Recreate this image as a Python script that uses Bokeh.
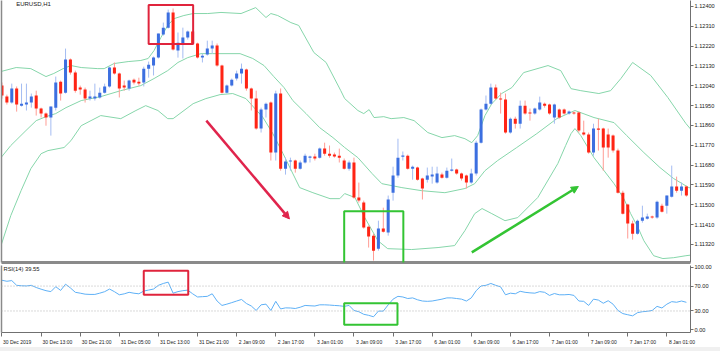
from bokeh.plotting import figure
from bokeh.models import (Range1d, LinearAxis, FixedTicker, PrintfTickFormatter, Span, Label,
                          Arrow, NormalHead, BoxAnnotation, ColumnDataSource, Spacer)
from bokeh.layouts import column
from bokeh.embed import file_html
from bokeh.resources import INLINE

# ---------------- data ----------------
opens = [1.12041,1.11991,1.11964,1.12028,1.11950,1.11955,1.11964,1.11996,1.11937,1.11914,
         1.11896,1.11941,1.12059,1.12009,1.12159,1.12100,1.12032,1.12023,1.11982,1.11982,
         1.11987,1.12009,1.12037,1.12123,1.12096,1.12041,1.12028,1.12068,1.12059,1.12055,
         1.12118,1.12132,1.12168,1.12273,1.12304,1.12373,1.12200,1.12232,1.12259,1.12286,
         1.12232,1.12168,1.12182,1.12209,1.12223,1.12132,1.12009,1.12041,1.12073,1.12096,
         1.12114,1.12028,1.11982,1.11846,1.11932,1.11964,1.11737,1.12005,1.11664,1.11696,
         1.11701,1.11664,1.11692,1.11714,1.11719,1.11714,1.11755,1.11732,1.11728,1.11723,
         1.11701,1.11664,1.11692,1.11533,1.11510,1.11401,1.11360,1.11301,1.11392,1.11374,
         1.11555,1.11633,1.11719,1.11723,1.11664,1.11669,1.11619,1.11614,1.11628,1.11601,
         1.11637,1.11623,1.11655,1.11660,1.11642,1.11633,1.11601,1.11642,1.11782,1.11932,
         1.11959,1.12032,1.11982,1.11978,1.11828,1.11891,1.11868,1.11950,1.11919,1.11914,
         1.11932,1.11959,1.11955,1.11896,1.11932,1.11932,1.11914,1.11919,1.11919,1.11828,
         1.11819,1.11737,1.11846,1.11846,1.11819,1.11814,1.11746,1.11555,1.11501,1.11415,
         1.11369,1.11428,1.11437,1.11447,1.11442,1.11496,1.11496,1.11537,1.11583,1.11564,
         1.11583]
highs = [1.12055,1.12000,1.12050,1.12037,1.12050,1.12050,1.12005,1.12018,1.11941,1.11919,
         1.11946,1.12082,1.12064,1.12209,1.12164,1.12109,1.12041,1.12032,1.12018,1.12050,
         1.12032,1.12050,1.12127,1.12146,1.12100,1.12064,1.12068,1.12073,1.12077,1.12127,
         1.12150,1.12173,1.12277,1.12327,1.12386,1.12391,1.12282,1.12304,1.12291,1.12291,
         1.12236,1.12186,1.12245,1.12245,1.12232,1.12136,1.12046,1.12073,1.12109,1.12141,
         1.12118,1.12032,1.12018,1.11941,1.11964,1.11969,1.12018,1.12028,1.11714,1.11714,
         1.11705,1.11701,1.11732,1.11723,1.11732,1.11760,1.11782,1.11769,1.11737,1.11755,
         1.11710,1.11701,1.11714,1.11601,1.11519,1.11406,1.11369,1.11428,1.11487,1.11542,
         1.11673,1.11800,1.11742,1.11728,1.11678,1.11673,1.11623,1.11669,1.11673,1.11673,
         1.11646,1.11669,1.11710,1.11664,1.11646,1.11637,1.11664,1.11791,1.11937,1.11996,
         1.12050,1.12046,1.12009,1.12005,1.11896,1.11900,1.11973,1.11973,1.11937,1.11941,
         1.11991,1.11964,1.11959,1.11959,1.11937,1.11937,1.11928,1.11923,1.11923,1.11882,
         1.11828,1.11868,1.11891,1.11850,1.11846,1.11819,1.11755,1.11564,1.11505,1.11428,
         1.11433,1.11496,1.11460,1.11451,1.11519,1.11505,1.11542,1.11678,1.11628,1.11601,
         1.11587]
lows = [1.11982,1.11955,1.11959,1.11923,1.11946,1.11928,1.11941,1.11905,1.11896,1.11859,
        1.11814,1.11928,1.11973,1.12005,1.12091,1.12009,1.12000,1.11964,1.11973,1.11973,
        1.11982,1.12005,1.12032,1.12091,1.11987,1.12018,1.12018,1.12046,1.12041,1.12037,
        1.12077,1.12087,1.12164,1.12268,1.12300,1.12200,1.12168,1.12164,1.12250,1.12227,
        1.12164,1.12146,1.12177,1.12186,1.12127,1.12005,1.12005,1.12037,1.12064,1.12050,
        1.12018,1.11928,1.11841,1.11828,1.11896,1.11701,1.11701,1.11655,1.11637,1.11655,
        1.11646,1.11660,1.11687,1.11692,1.11701,1.11710,1.11723,1.11714,1.11714,1.11692,
        1.11660,1.11655,1.11528,1.11510,1.11392,1.11306,1.11247,1.11292,1.11374,1.11360,
        1.11519,1.11623,1.11701,1.11660,1.11614,1.11610,1.11524,1.11601,1.11596,1.11596,
        1.11619,1.11619,1.11651,1.11637,1.11610,1.11574,1.11596,1.11633,1.11778,1.11928,
        1.11955,1.11978,1.11914,1.11823,1.11823,1.11846,1.11846,1.11909,1.11882,1.11909,
        1.11928,1.11941,1.11909,1.11868,1.11891,1.11909,1.11909,1.11909,1.11828,1.11814,
        1.11732,1.11723,1.11746,1.11655,1.11714,1.11737,1.11551,1.11456,1.11347,1.11342,
        1.11365,1.11419,1.11433,1.11437,1.11437,1.11465,1.11460,1.11533,1.11555,1.11542,
        1.11537]
closes = [1.11996,1.11964,1.12028,1.11955,1.11959,1.11964,1.11991,1.11937,1.11914,1.11896,
          1.11946,1.12055,1.12005,1.12159,1.12100,1.12018,1.12023,1.11982,1.11991,1.11991,
          1.12009,1.12037,1.12123,1.12096,1.12028,1.12032,1.12064,1.12055,1.12050,1.12118,
          1.12136,1.12168,1.12277,1.12304,1.12373,1.12205,1.12236,1.12259,1.12286,1.12232,
          1.12168,1.12177,1.12209,1.12223,1.12132,1.12009,1.12041,1.12068,1.12096,1.12118,
          1.12028,1.11982,1.11846,1.11932,1.11959,1.11737,1.12005,1.11664,1.11696,1.11701,
          1.11664,1.11692,1.11723,1.11719,1.11710,1.11755,1.11732,1.11723,1.11719,1.11714,
          1.11664,1.11692,1.11533,1.11519,1.11397,1.11356,1.11292,1.11392,1.11378,1.11524,
          1.11633,1.11714,1.11723,1.11664,1.11673,1.11614,1.11574,1.11633,1.11637,1.11642,
          1.11623,1.11655,1.11660,1.11642,1.11619,1.11601,1.11642,1.11782,1.11932,1.11959,
          1.12032,1.11982,1.11978,1.11828,1.11891,1.11868,1.11950,1.11914,1.11914,1.11937,
          1.11964,1.11950,1.11914,1.11955,1.11896,1.11914,1.11923,1.11914,1.11837,1.11819,
          1.11737,1.11846,1.11841,1.11760,1.11760,1.11746,1.11555,1.11460,1.11415,1.11369,
          1.11428,1.11442,1.11447,1.11442,1.11514,1.11469,1.11542,1.11583,1.11564,1.11583,
          1.11542]

upper_bar = [-0.2,2.9,5.9,9.0,10.6,12.5,14.1,16.2,19.6,20.9,22.9,25.8,28.4,29.9,31.1,32.5,33.9,35.2,
             37.2,39.1,42.1,44.8,48.9,51.9,54.0,55.0,56.4,59.1,60.7,63.8,66.3,69.3,70.1,72.8,74.0,
             75.1,76.1,78.1,79.6,82.2,84.3,87.1,90.0,92.6,94.7,96.1,97.3,98.8,100.2,102.2,104.3,
             106.7,111.7,114.3,116.4,118.4,122.1,124.5,126.6,129.0,132.7,136.2,139.9,141.0]
upper_val = [1.12105,1.12123,1.12118,1.12082,1.12096,1.12118,1.12132,1.12123,1.12118,1.12118,
             1.12141,1.12150,1.12155,1.12164,1.12200,1.12259,1.12314,1.12345,1.12359,1.12368,
             1.12368,1.12373,1.12368,1.12395,1.12350,1.12368,1.12359,1.12327,1.12314,1.12191,
             1.12146,1.12018,1.11982,1.11928,1.11914,1.11932,1.11896,1.11900,1.11891,1.11896,
             1.11882,1.11828,1.11805,1.11814,1.11800,1.11782,1.11814,1.11905,1.11959,1.12005,
             1.12032,1.12100,1.12132,1.12109,1.12027,1.12018,1.12005,1.12018,1.12073,1.12146,
             1.12087,1.11987,1.11869,1.11840]
middle_bar = [-0.2,1.8,4.9,7.0,9.0,11.0,13.1,16.2,20.2,24.3,28.4,31.1,33.9,36.0,38.0,40.7,43.1,
              48.7,51.3,53.6,55.6,57.7,59.5,62.2,65.0,67.7,70.1,72.8,75.7,77.7,81.8,85.9,90.6,
              94.7,96.7,98.8,101.4,105.3,109.4,113.5,117.2,121.1,125.2,127.8,131.3,134.6,137.4,
              140.5,141.0]
middle_val = [1.11714,1.11769,1.11837,1.11882,1.11900,1.11914,1.11941,1.11973,1.11991,1.12018,
              1.12041,1.12073,1.12109,1.12146,1.12168,1.12186,1.12186,1.12186,1.12164,1.12132,
              1.12082,1.12032,1.11973,1.11914,1.11850,1.11805,1.11760,1.11714,1.11642,1.11596,
              1.11578,1.11564,1.11555,1.11574,1.11596,1.11655,1.11701,1.11760,1.11823,1.11891,
              1.11928,1.11896,1.11873,1.11814,1.11737,1.11669,1.11619,1.11578,1.11576]
lower_bar = [-0.2,1.8,3.9,5.9,8.0,9.4,12.7,14.1,16.2,20.2,24.3,27.4,29.4,31.9,33.9,35.0,39.1,
             41.7,44.6,47.2,49.9,53.4,55.4,57.5,60.9,63.6,67.1,69.1,70.1,72.2,74.2,76.9,78.9,
             83.8,89.2,92.6,94.7,96.7,98.2,100.2,102.9,105.5,109.6,113.7,115.3,116.4,117.2,
             118.4,121.1,125.2,127.2,128.6,130.1,131.3,133.3,135.2,137.4,139.9,141.0]
lower_val = [1.11315,1.11451,1.11564,1.11664,1.11732,1.11746,1.11760,1.11791,1.11859,1.11905,
             1.11891,1.11928,1.11950,1.11928,1.11891,1.11891,1.11959,1.11982,1.12000,1.12005,
             1.11982,1.11896,1.11823,1.11732,1.11578,1.11555,1.11528,1.11528,1.11551,1.11533,
             1.11442,1.11337,1.11301,1.11297,1.11306,1.11315,1.11383,1.11460,1.11483,1.11460,
             1.11428,1.11442,1.11533,1.11687,1.11769,1.11823,1.11846,1.11814,1.11714,1.11596,
             1.11528,1.11460,1.11397,1.11337,1.11269,1.11256,1.11260,1.11269,1.11272]

rsi = [79.3,77.7,78.8,71.2,70.5,70.2,71.2,67.7,65.0,62.6,61.1,69.0,63.0,73.0,67.0,60.0,58.6,57.0,
       56.6,56.6,58.6,61.0,65.2,61.0,56.0,57.5,60.0,58.5,57.6,62.0,63.6,65.2,71.2,74.2,76.3,58.6,
       61.1,62.6,63.5,57.6,52.5,53.0,53.5,57.6,46.0,38.9,41.0,43.4,46.0,48.5,42.0,38.0,30.8,39.9,
       41.0,30.8,45.5,33.3,35.0,34.8,34.0,36.0,38.9,38.4,38.0,39.9,39.9,39.5,38.9,38.4,37.4,38.9,
       30.8,28.8,24.7,23.0,20.7,29.8,29.8,39.9,49.0,53.5,52.5,50.0,51.0,48.0,46.0,45.5,46.0,47.5,
       49.0,51.0,51.0,50.0,49.0,46.0,51.0,62.6,70.2,71.2,74.2,71.2,68.7,56.0,58.6,57.6,61.6,60.0,
       59.1,58.6,61.1,60.0,55.0,58.0,56.0,56.0,56.5,55.0,46.0,45.5,38.9,49.0,47.5,42.4,46.5,40.9,
       30.8,25.8,24.0,22.2,27.3,28.8,29.5,30.8,37.4,34.8,40.9,45.0,44.0,46.0,43.9]

price_ticks = [1.12400,1.12310,1.12220,1.12130,1.12040,1.11950,1.11860,1.11770,1.11680,
               1.11590,1.11500,1.11410,1.11320]
rsi_ticks = [0, 30, 70, 100]
time_ticks = [0, 8, 16, 24, 32, 40, 48, 56, 64, 72, 80, 88, 96, 104, 112, 120, 128, 136]
time_labels = ["30 Dec 2019", "30 Dec 13:00", "30 Dec 21:00", "31 Dec 05:00", "31 Dec 13:00",
               "31 Dec 21:00", "2 Jan 09:00", "2 Jan 17:00", "3 Jan 01:00", "3 Jan 09:00",
               "3 Jan 17:00", "6 Jan 01:00", "6 Jan 09:00", "6 Jan 17:00", "7 Jan 01:00",
               "7 Jan 09:00", "7 Jan 17:00", "8 Jan 01:00"]

# ---------------- styles ----------------
FONT = "Liberation Sans"
FS = "5.6px"
FS_TIME = 5.0
BAR_PX = 4.89          # width of one bar slot in pixels
BULL, BEAR = "#3c6fe0", "#ff2414"
BULL_W, BEAR_W = "#a4bcf2", "#ff9c94"
BAND = "#86d6aa"
AXIS_C = "#707070"
RED_BOX, GREEN_BOX = "#e0243c", "#33c433"

n = len(closes)
idx = list(range(n))
bull = [c >= o for o, c in zip(opens, closes)]
min_body = 0.00005
tops, bots = [], []
for o, c in zip(opens, closes):
    t, b = max(o, c), min(o, c)
    if t - b < min_body:
        m = (t + b) / 2
        t, b = m + min_body / 2, m - min_body / 2
    tops.append(t)
    bots.append(b)

src = ColumnDataSource(dict(
    x=idx, h=highs, l=lows, top=tops, bot=bots,
    body=[BULL if b else BEAR for b in bull],
    wick=[BULL_W if b else BEAR_W for b in bull]))

xr = Range1d(-0.1, 140.84)


def plain_axis(width):
    a = LinearAxis(ticker=FixedTicker(ticks=[]))
    a.axis_line_color = "#8a8a8a"
    a.axis_line_width = width
    a.major_tick_line_color = None
    a.minor_tick_line_color = None
    a.major_label_standoff = 0
    a.major_tick_out = 0
    return a


def price_axis(ticks, fmt):
    a = LinearAxis(ticker=FixedTicker(ticks=ticks), formatter=PrintfTickFormatter(format=fmt))
    a.axis_line_color = AXIS_C
    a.major_tick_line_color = AXIS_C
    a.major_tick_in = 0
    a.major_tick_out = 3
    a.minor_tick_line_color = None
    a.major_label_standoff = 1
    a.major_label_text_font = FONT
    a.major_label_text_font_size = FS
    a.major_label_text_color = "#202020"
    return a


# ---------------- main price panel ----------------
p1 = figure(width=720, height=264, x_range=xr, y_range=Range1d(1.112382, 1.124272),
            output_backend="svg", toolbar_location=None,
            x_axis_location=None, y_axis_location=None,
            min_border_left=1, min_border_right=30, min_border_top=0, min_border_bottom=2)
p1.grid.grid_line_color = None
p1.outline_line_color = None

p1.add_layout(price_axis(price_ticks, "%.5f"), "right")
p1.add_layout(plain_axis(3), "below")
p1.add_layout(plain_axis(1.5), "left")

p1.line(upper_bar, upper_val, line_color=BAND, line_width=1)
p1.line(middle_bar, middle_val, line_color=BAND, line_width=1)
p1.line(lower_bar, lower_val, line_color=BAND, line_width=1)

p1.segment(x0="x", y0="h", x1="x", y1="l", line_color="wick", line_width=1, source=src)
p1.vbar(x="x", width=0.62, top="top", bottom="bot", fill_color="body", line_color=None, source=src)

# annotations
p1.add_layout(BoxAnnotation(left=30.0, right=39.1, bottom=1.12230, top=1.12407,
                            fill_color=None, fill_alpha=0, line_color=RED_BOX, line_alpha=1,
                            line_width=2))
p1.add_layout(BoxAnnotation(left=70.0, right=82.1, bottom=1.1120, top=1.11471,
                            fill_color=None, fill_alpha=0, line_color=GREEN_BOX, line_alpha=1,
                            line_width=2))
p1.add_layout(Arrow(end=NormalHead(size=7, fill_color="#e0244c", line_color="#e0244c"),
                    x_start=41.8, y_start=1.11882, x_end=58.8, y_end=1.11436,
                    line_color="#e0244c", line_width=2.5))
p1.add_layout(Arrow(end=NormalHead(size=7, fill_color="#33c433", line_color="#33c433"),
                    x_start=96.1, y_start=1.11284, x_end=117.9, y_end=1.11583,
                    line_color="#33c433", line_width=2.5))
p1.add_layout(Label(x=2.9, y=1.12424, text="EURUSD,H1", text_font=FONT, text_font_size="6px",
                    text_baseline="top", text_color="#202020"))

# ---------------- RSI panel ----------------
p2 = figure(width=720, height=83, x_range=xr, y_range=Range1d(-4.55, 103.03),
            output_backend="svg", toolbar_location=None,
            x_axis_location=None, y_axis_location=None,
            min_border_left=1, min_border_right=30, min_border_top=1, min_border_bottom=11)
p2.grid.grid_line_color = None
p2.outline_line_color = None

p2.add_layout(price_axis(rsi_ticks, "%.2f"), "right")

# time axis: tick marks at the bars (minor ticks), labels placed to start right of each mark
label_pos = [round(t + (len(s) * 0.496 * FS_TIME / 2 + 1.5) / BAR_PX, 2)
             for t, s in zip(time_ticks, time_labels)]
bx = LinearAxis(ticker=FixedTicker(ticks=label_pos, minor_ticks=time_ticks),
                major_label_overrides={p: s for p, s in zip(label_pos, time_labels)})
bx.axis_line_color = AXIS_C
bx.major_tick_line_color = None
bx.major_tick_in = 0
bx.major_tick_out = 0
bx.minor_tick_line_color = AXIS_C
bx.minor_tick_in = 0
bx.minor_tick_out = 4
bx.major_label_standoff = 2
bx.major_label_text_font = FONT
bx.major_label_text_font_size = f"{FS_TIME}px"
bx.major_label_text_color = "#202020"
p2.add_layout(bx, "below")
p2.add_layout(plain_axis(1.5), "left")

for lvl in (70, 30):
    p2.add_layout(Span(location=lvl, dimension="width", line_color="#b4b4b4",
                       line_dash="1 2", line_width=1))

p2.line(idx, rsi, line_color="#5eb0f6", line_width=1)

p2.add_layout(BoxAnnotation(left=29.0, right=38.1, bottom=56.1, top=94.4,
                            fill_color=None, fill_alpha=0, line_color=RED_BOX, line_alpha=1,
                            line_width=2))
p2.add_layout(BoxAnnotation(left=70.0, right=80.9, bottom=8.0, top=42.4,
                            fill_color=None, fill_alpha=0, line_color=GREEN_BOX, line_alpha=1,
                            line_width=2))
p2.add_layout(Label(x=0.3, y=101.5, text="RSI(14) 39.55", text_font=FONT, text_font_size="5.8px",
                    text_baseline="top", text_color="#202020"))

strip = Spacer(width=720, height=4, styles={"background-color": "#f0f0f0"})

layout = column(p1, p2, strip, spacing=0)
open("out.html", "w").write(file_html(layout, INLINE))
